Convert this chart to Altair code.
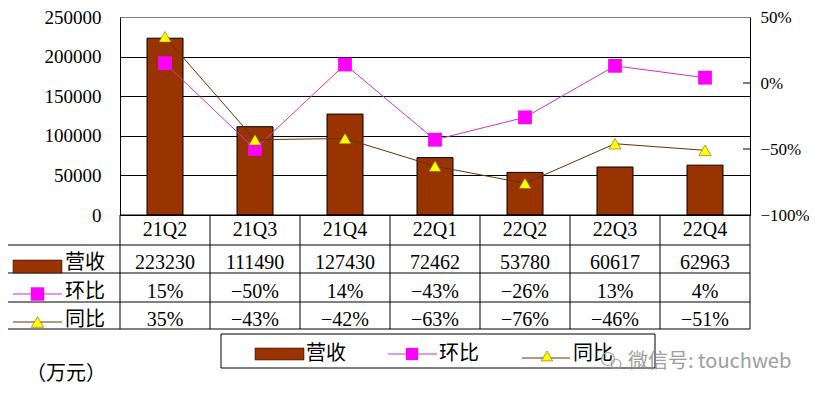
import altair as alt
import pandas as pd

# ---------------- data ----------------
quarters = ["21Q2", "21Q3", "21Q4", "22Q1", "22Q2", "22Q3", "22Q4"]
revenue = [223230, 111490, 127430, 72462, 53780, 60617, 62963]
qoq = [0.15, -0.50, 0.14, -0.43, -0.26, 0.13, 0.04]
yoy = [0.35, -0.43, -0.42, -0.63, -0.76, -0.46, -0.51]
left_ticks = [0, 50000, 100000, 150000, 200000, 250000]
right_ticks = [0.5, 0.0, -0.5, -1.0]
right_inner_ticks = [0.0, -0.5]
series_names = ["营收", "环比", "同比"]
unit_label = "（万元）"
watermark = "微信号: touchweb"


def pct(v):
    return f"{round(v * 100)}%".replace("-", "−")


df = pd.DataFrame({
    "q": quarters,
    "rev": revenue,
    "qoq": qoq,
    "yoy": yoy,
    "rev_lbl": [str(v) for v in revenue],
    "qoq_lbl": [pct(v) for v in qoq],
    "yoy_lbl": [pct(v) for v in yoy],
})
one = pd.DataFrame({"a": [0]})

NUM_FONT = "Liberation Serif"
CJK_FONT = "Noto Sans CJK SC"
BROWN = "#993300"
MAGENTA = "#FF00FF"
QOQ_LINE = "#CC33CC"
YOY_LINE = "#663300"
W, H = 630, 198

X = alt.X("q:N", sort=quarters, scale=alt.Scale(paddingInner=0, paddingOuter=0), axis=None)

# ---------------- bars (left axis) ----------------
left_axis = alt.Axis(
    orient="left", values=left_ticks, format="d", title=None,
    grid=True, gridColor={"condition": {"test": "datum.value === 250000", "value": "#808080"}, "value": "black"},
    gridWidth=1, ticks=False, domain=True, domainColor="black",
    labelPadding=19, labelFont=NUM_FONT, labelFontSize=19, labelColor="black",
)
bars = alt.Chart(df).mark_bar(size=36, color=BROWN, stroke="black", strokeWidth=1).encode(
    x=X,
    y=alt.Y("rev:Q", scale=alt.Scale(domain=[0, 250000], nice=False, zero=True), axis=left_axis),
)

# ---------------- lines (right axis) ----------------
rscale = alt.Scale(domain=[-1.0, 0.5], nice=False, zero=False)
right_axis = alt.Axis(
    orient="right", values=right_ticks, format=".0%", title=None, grid=False,
    ticks=False, domain=True, domainColor="black", labelPadding=10,
    labelFont=NUM_FONT, labelFontSize=17, labelColor="black",
)
qoq_line = alt.Chart(df).mark_line(color=QOQ_LINE, strokeWidth=1).encode(
    x=X, y=alt.Y("qoq:Q", scale=rscale, axis=right_axis))
yoy_line = alt.Chart(df).mark_line(color=YOY_LINE, strokeWidth=1).encode(
    x=X, y=alt.Y("yoy:Q", scale=rscale, axis=right_axis))
qoq_pts = alt.Chart(df).mark_square(size=190, color=MAGENTA, opacity=1).encode(
    x=X, y=alt.Y("qoq:Q", scale=rscale, axis=right_axis))
yoy_pts = alt.Chart(df).mark_point(shape="triangle-up", filled=True, fill="#FFFF00", stroke="#806000",
                                   strokeWidth=0.6, size=150, opacity=1).encode(
    x=X, y=alt.Y("yoy:Q", scale=rscale, axis=right_axis))
rtick = alt.Chart(pd.DataFrame({"t": right_inner_ticks})).mark_rule(color="black").encode(
    y=alt.Y("t:Q", scale=rscale, axis=right_axis), x=alt.value(W - 7), x2=alt.value(W))
inner = alt.layer(qoq_line, yoy_line, qoq_pts, yoy_pts, rtick)

# ---------------- data table ----------------
ROW_LINES = [228, 256, 285, 312]
table_layers = []
table_layers.append(alt.Chart(one).mark_rule(color="black").encode(
    x=alt.value(0), x2=alt.value(W), y=alt.value(H)))
for yv in ROW_LINES:
    table_layers.append(alt.Chart(one).mark_rule(color="black").encode(
        x=alt.value(-114), x2=alt.value(W), y=alt.value(yv)))
table_layers.append(alt.Chart(one).mark_rule(color="black").encode(
    x=alt.value(-114), y=alt.value(228), y2=alt.value(312)))
table_layers.append(alt.Chart(df).mark_rule(color="black").encode(
    x=alt.X("q:N", sort=quarters, scale=alt.Scale(paddingInner=0, paddingOuter=0), axis=None, bandPosition=0),
    y=alt.value(H), y2=alt.value(312)))
table_layers.append(alt.Chart(one).mark_rule(color="black").encode(
    x=alt.value(W), y=alt.value(H), y2=alt.value(312)))

for field, yv in [("q", 213), ("rev_lbl", 246), ("qoq_lbl", 275), ("yoy_lbl", 302.5)]:
    table_layers.append(alt.Chart(df).mark_text(font=NUM_FONT, fontSize=20, color="black",
                                                align="center", baseline="middle").encode(
        x=X, y=alt.value(yv), text=f"{field}:N"))

# row legends in table
leg = []
leg.append(alt.Chart(one).mark_rect(color=BROWN, stroke="black", strokeWidth=0.5).encode(
    x=alt.value(-107), x2=alt.value(-58), y=alt.value(243), y2=alt.value(256)))
leg.append(alt.Chart(one).mark_rule(color=QOQ_LINE).encode(
    x=alt.value(-107), x2=alt.value(-58), y=alt.value(277)))
leg.append(alt.Chart(one).mark_square(size=180, color=MAGENTA, opacity=1).encode(
    x=alt.value(-82.5), y=alt.value(277)))
leg.append(alt.Chart(one).mark_rule(color=YOY_LINE).encode(
    x=alt.value(-107), x2=alt.value(-58), y=alt.value(305)))
leg.append(alt.Chart(one).mark_point(shape="triangle-up", filled=True, fill="#FFFF00", stroke="#806000",
                                     strokeWidth=0.6, size=150, opacity=1).encode(
    x=alt.value(-82.5), y=alt.value(305)))
for name, yv in zip(series_names, [246, 275, 302.5]):
    leg.append(alt.Chart(one).mark_text(text=name, font=CJK_FONT, fontSize=20, color="black",
                                        align="left", baseline="middle").encode(
        x=alt.value(-55), y=alt.value(yv)))

# bottom legend box
leg.append(alt.Chart(one).mark_rect(fill="white", stroke="black", strokeWidth=1).encode(
    x=alt.value(101), x2=alt.value(535), y=alt.value(317), y2=alt.value(351)))
leg.append(alt.Chart(one).mark_rect(color=BROWN, stroke="black", strokeWidth=0.5).encode(
    x=alt.value(135), x2=alt.value(184), y=alt.value(331), y2=alt.value(343)))
leg.append(alt.Chart(one).mark_rule(color=QOQ_LINE).encode(
    x=alt.value(268), x2=alt.value(317), y=alt.value(337)))
leg.append(alt.Chart(one).mark_square(size=150, color=MAGENTA, opacity=1).encode(
    x=alt.value(292), y=alt.value(337)))
leg.append(alt.Chart(one).mark_rule(color=YOY_LINE).encode(
    x=alt.value(402), x2=alt.value(450), y=alt.value(341)))
leg.append(alt.Chart(one).mark_point(shape="triangle-up", filled=True, fill="#FFFF00", stroke="#806000",
                                     strokeWidth=0.6, size=130, opacity=1).encode(
    x=alt.value(427), y=alt.value(339)))
for name, xv in zip(series_names, [186, 319, 453]):
    leg.append(alt.Chart(one).mark_text(text=name, font=CJK_FONT, fontSize=20, color="black",
                                        align="left", baseline="middle").encode(
        x=alt.value(xv), y=alt.value(337)))

# unit label
leg.append(alt.Chart(one).mark_text(text=unit_label, font=CJK_FONT, fontSize=20, color="black",
                                    align="left", baseline="middle").encode(
    x=alt.value(-94), y=alt.value(357)))

# watermark
leg.append(alt.Chart(one).mark_point(shape="circle", filled=False, color="#9a9a9a", strokeWidth=1.2,
                                     size=170, opacity=0.9).encode(x=alt.value(488), y=alt.value(342)))
leg.append(alt.Chart(one).mark_point(shape="circle", filled=False, color="#9a9a9a", strokeWidth=1.2,
                                     size=90, opacity=0.9).encode(x=alt.value(496), y=alt.value(347)))
leg.append(alt.Chart(one).mark_text(text=watermark, font=CJK_FONT, fontSize=20, color="#8c8c8c",
                                    opacity=0.85, align="left", baseline="middle").encode(
    x=alt.value(508), y=alt.value(345)))

chart = alt.layer(bars, inner, *table_layers, *leg).resolve_scale(y="independent").properties(
    width=W, height=H,
    autosize=alt.AutoSizeParams(type="none"),
    padding={"left": 112, "top": 9, "right": 59, "bottom": 173},
).configure_view(stroke=None).configure(font=NUM_FONT, background="white")

chart.save("out.html", embed_options={"renderer": "svg", "actions": False})
